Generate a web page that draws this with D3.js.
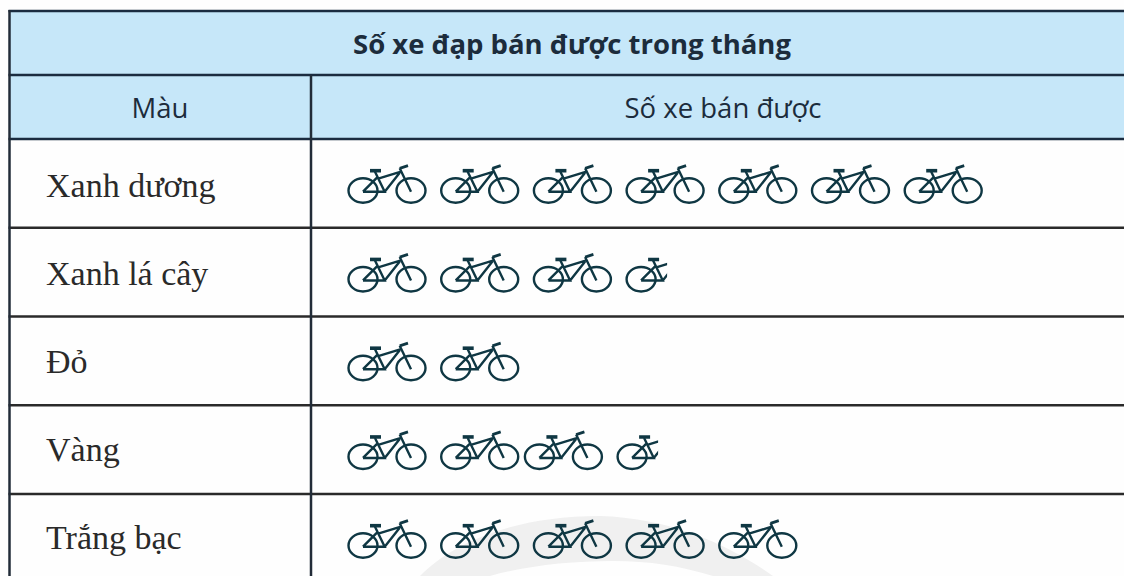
<!DOCTYPE html>
<html lang="en">
  <head>
    <meta charset="utf-8">
    <script src="https://cdnjs.cloudflare.com/ajax/libs/d3/7.8.5/d3.min.js"></script>
    <style>
    html, body { margin: 0; padding: 0; background: #fefefe; }
    svg { display: block; }
    .head { font-family: "Open Sans", "Noto Sans", sans-serif; fill: #1c2c3c; }
    .cat { font-family: "Liberation Serif", serif; fill: #2a2a2a; }
    .bike path, .bike line, .bike ellipse { fill: none; stroke: #0f3743; stroke-width: 2.4; }
    </style>
  </head>
<body>
<script>

var colors = ["Xanh dương", "Xanh lá cây", "Đỏ", "Vàng", "Trắng bạc"];
var bikes = [7, 3.5, 2, 3.5, 5];
var title = "Số xe đạp bán được trong tháng";
var headers = ["Màu", "Số xe bán được"];

var width = 1124, height = 576;

var svg = d3.select("body").append("svg")
    .attr("width", width)
    .attr("height", height);

var rowY = d3.scaleBand().domain(colors).range([139, 139 + 88.75 * colors.length]);
// text baselines run on a slightly tighter step than the rules
var textY = d3.scalePoint().domain(colors).range([197, 549]);
// one bike per unit
var bikeX = d3.scaleLinear().domain([0, 1]).range([348, 440.7]);

var leftX = 9.5, splitX = 311;

// faint watermark behind the last row
svg.append("path")
    .attr("d", "M420,576 C450,545 510,516 600,516 C670,518 730,545 773,576 L713,576 C680,566 650,561 613,561 C570,561 525,566 490,576 Z")
    .attr("fill", "#f0f0f0");

// header fill
svg.append("rect")
    .attr("x", leftX).attr("y", 11)
    .attr("width", width - leftX).attr("height", 128)
    .attr("fill", "#c6e7f9");

svg.append("defs").append("clipPath")
    .attr("id", "halfBike")
  .append("rect")
    .attr("x", -2).attr("y", -2)
    .attr("width", 43).attr("height", 44);

function drawBike(g) {
  g.append("ellipse").attr("cx", 15).attr("cy", 25.5).attr("rx", 14.5).attr("ry", 12.2);
  g.append("ellipse").attr("cx", 63).attr("cy", 25.5).attr("rx", 14.5).attr("ry", 12.2);
  g.append("path").attr("d", "M15,26.7 L36.7,26.7 L27,6.7 M15,26.7 L30,11.7 M31,13.3 L53,6.7 M36.7,26.7 L51.7,7.7 M51.7,3.3 L63,26.7");
  g.append("path").attr("d", "M22,5.7 L33,5.7").style("stroke-width", 3.6);
  g.append("path").attr("d", "M51.7,3.3 L60,0.7").style("stroke-width", 2.8);
}

var rows = svg.selectAll(".row")
    .data(colors)
  .enter().append("g")
    .attr("class", "row");

rows.append("text")
    .attr("class", "cat")
    .attr("x", 46)
    .attr("y", function(d) { return textY(d); })
    .attr("font-size", 34)
    .text(function(d) { return d; });

rows.each(function(name, i) {
  var v = bikes[i];
  var icons = d3.range(Math.ceil(v));
  d3.select(this).selectAll(".bike")
      .data(icons)
    .enter().append("g")
      .attr("class", "bike")
      .attr("transform", function(k) {
        // the yellow row is set tighter after its second bike
        var nudge = (name === "Vàng" && k >= 2) ? -9 : 0;
        return "translate(" + (bikeX(k) + nudge) + "," + (rowY(name) + 26) + ")";
      })
      .attr("clip-path", function(k) { return k + 1 > v ? "url(#halfBike)" : null; })
      .each(function() { drawBike(d3.select(this)); });
});

// grid lines
var hLines = [11, 75, 139].concat(colors.slice(1).map(function(d) { return rowY(d); }));
svg.selectAll(".hline")
    .data(hLines)
  .enter().append("line")
    .attr("class", "hline")
    .attr("x1", leftX - 1).attr("x2", width)
    .attr("y1", function(d) { return d; })
    .attr("y2", function(d) { return d; })
    .attr("stroke", function(d) { return d < 140 ? "#1b2c40" : "#2a2a2a"; })
    .attr("stroke-width", 2.5);

svg.append("line")
    .attr("x1", leftX).attr("x2", leftX)
    .attr("y1", 10).attr("y2", height)
    .attr("stroke", "#222c38").attr("stroke-width", 2.5);

svg.append("line")
    .attr("x1", splitX).attr("x2", splitX)
    .attr("y1", 75).attr("y2", height)
    .attr("stroke", "#222c38").attr("stroke-width", 2.5);

// header text
svg.append("text")
    .attr("class", "head")
    .attr("x", 572).attr("y", 54)
    .attr("text-anchor", "middle")
    .attr("font-size", 27.5)
    .attr("font-weight", 700)
    .text(title);

svg.append("text")
    .attr("class", "head")
    .attr("x", 160).attr("y", 118)
    .attr("text-anchor", "middle")
    .attr("font-size", 27.5)
    .text(headers[0]);

svg.append("text")
    .attr("class", "head")
    .attr("x", 723).attr("y", 118)
    .attr("text-anchor", "middle")
    .attr("font-size", 27.5)
    .text(headers[1]);

</script>
</body>
</html>
